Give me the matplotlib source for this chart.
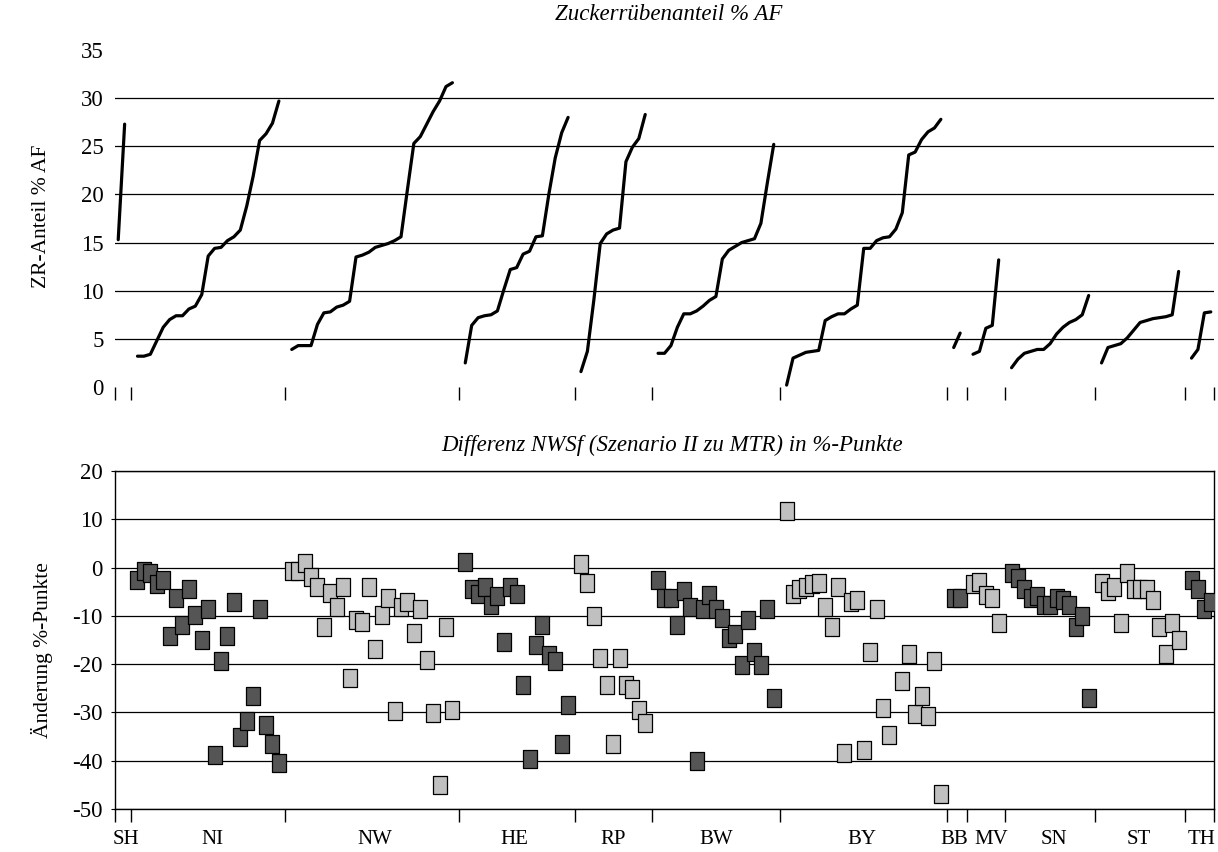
import numpy as np
import matplotlib
matplotlib.use("Agg")
import matplotlib.pyplot as plt
from matplotlib.path import Path

plt.rcParams['font.family'] = ['Liberation Serif', 'DejaVu Serif']
plt.rcParams['axes.unicode_minus'] = False

# Bundesländer in chart order
laender = ["SH", "NI", "NW", "HE", "RP", "BW", "BY", "BB", "MV", "SN", "ST", "TH"]
farben = ["#555555", "#555555", "#c0c0c0", "#555555", "#c0c0c0", "#555555",
          "#c0c0c0", "#555555", "#c0c0c0", "#555555", "#c0c0c0", "#555555"]
# small nudges of the Land labels (in category slots), like the Excel export
label_versatz = [0.7, 0.7, 0.4, -0.3, 0, 0, -0.3, -0.4, 0.9, 0.6, -0.2, 0]

# Zuckerrübenanteil % AF (sorted per Land)
zr_sh = [15.3, 27.3]
zr_ni = [3.2, 3.2, 3.4, 4.8, 6.2, 7.0, 7.4, 7.4, 8.1, 8.4, 9.6, 13.6, 14.4, 14.5, 15.2,
         15.6, 16.3, 18.8, 21.9, 25.6, 26.3, 27.4, 29.7]
zr_nw = [3.9, 4.3, 4.3, 4.3, 6.5, 7.7, 7.8, 8.3, 8.5, 8.9, 13.5, 13.7, 14.0, 14.5, 14.7,
         14.9, 15.2, 15.6, 20.5, 25.3, 26.0, 27.3, 28.6, 29.7, 31.2, 31.6]
zr_he = [2.5, 6.4, 7.2, 7.4, 7.5, 7.9, 10.1, 12.2, 12.4, 13.8, 14.1, 15.6, 15.7, 20.0,
         23.8, 26.4, 28.0]
zr_rp = [1.6, 3.7, 9.0, 14.9, 15.9, 16.3, 16.5, 23.4, 24.9, 25.8, 28.3]
zr_bw = [3.5, 3.5, 4.3, 6.2, 7.6, 7.6, 7.9, 8.4, 9.0, 9.4, 13.3, 14.2, 14.6, 15.0, 15.2,
         15.4, 17.0, 21.2, 25.2]
zr_by = [0.2, 3.0, 3.3, 3.6, 3.7, 3.8, 6.9, 7.3, 7.6, 7.6, 8.1, 8.5, 14.4, 14.4, 15.2,
         15.5, 15.6, 16.4, 18.1, 24.1, 24.4, 25.7, 26.5, 26.9, 27.8]
zr_bb = [4.1, 5.6]
zr_mv = [3.4, 3.7, 6.1, 6.4, 13.2]
zr_sn = [2.0, 2.9, 3.5, 3.7, 3.9, 3.9, 4.5, 5.5, 6.2, 6.7, 7.0, 7.5, 9.5]
zr_st = [2.5, 4.1, 4.3, 4.5, 5.1, 5.9, 6.7, 6.9, 7.1, 7.2, 7.3, 7.5, 12.0]
zr_th = [3.0, 3.9, 7.7, 7.8]

# Differenz NWSf (Szenario II zu MTR) in %-Punkte
nan = np.nan
diff_sh = [nan, nan]
diff_ni = [-2.6, -0.8, -1.2, -3.3, -2.6, -14.1, -6.3, -11.8, -4.5, -9.9, -15.1, -8.6,
           -38.8, -19.3, -14.1, -7.2, -35.1, -31.8, -26.7, -8.6, -32.7, -36.5, -40.5]
diff_nw = [-0.7, -0.7, 0.9, -1.9, -4.0, -12.3, -5.2, -8.1, -4.0, -22.8, -10.9, -11.3,
           -4.0, -16.8, -9.9, -6.3, -29.7, -8.1, -7.1, -13.5, -8.5, -19.1, -30.2, -45.0,
           -12.3, -29.4]
diff_he = [1.1, -4.5, -5.4, -4.0, -7.7, -5.8, -15.5, -4.0, -5.4, -24.4, -39.7, -16.0,
           -11.8, -18.2, -19.3, -36.5, -28.5]
diff_rp = [0.7, -3.1, -10.0, -18.8, -24.4, -36.5, -18.8, -24.4, -25.2, -29.4, -32.1]
diff_bw = [-2.6, -6.3, -6.3, -11.8, -4.9, -8.1, -40.0, -8.5, -5.7, -8.5, -10.4, -14.6,
           -13.7, -20.2, -10.9, -17.4, -20.2, -8.6, -27.1]
diff_by = [11.7, -5.4, -4.5, -4.0, -3.5, -3.1, -8.1, -12.3, -4.0, -38.3, -7.2, -6.8,
           -37.7, -17.4, -8.5, -29.0, -34.6, nan, -23.5, -17.9, -30.4, -26.6, -30.8,
           -19.3, -46.9]
diff_bb = [-6.3, -6.3]
diff_mv = [-3.3, -2.9, -5.7, -6.3, -11.4]
diff_sn = [-1.2, -2.1, -4.5, -6.3, -5.8, -7.7, -7.7, -6.3, -6.8, -7.7, -12.3, -10.0, -27.1]
diff_st = [-3.1, -4.9, -4.0, -11.4, -1.2, -4.5, -4.5, -4.5, -6.8, -12.3, -17.9, -11.4, -15.1]
diff_th = [-2.6, -4.5, -8.6, -7.2]

zr_all = [zr_sh, zr_ni, zr_nw, zr_he, zr_rp, zr_bw, zr_by, zr_bb, zr_mv, zr_sn, zr_st, zr_th]
diff_all = [diff_sh, diff_ni, diff_nw, diff_he, diff_rp, diff_bw, diff_by, diff_bb,
            diff_mv, diff_sn, diff_st, diff_th]

# slightly tall square marker (as in the original export)
rect = Path([(-0.41, -0.5), (0.41, -0.5), (0.41, 0.5), (-0.41, 0.5), (-0.41, -0.5)],
            [Path.MOVETO, Path.LINETO, Path.LINETO, Path.LINETO, Path.CLOSEPOLY])

W, H = 1218, 852
fig = plt.figure(figsize=(W / 100, H / 100), dpi=100)
ax1 = fig.add_axes([115 / W, 1 - 387 / H, 1099 / W, 337 / H])
ax2 = fig.add_axes([115 / W, 1 - 809 / H, 1099 / W, 338 / H])

pos = 0
trenner = [-0.5]
mitten = []
for name, zr, diff, col, dx in zip(laender, zr_all, diff_all, farben, label_versatz):
    xs = np.arange(pos, pos + len(zr))
    ax1.plot(xs, zr, color="black", lw=2.3, solid_capstyle="round",
             solid_joinstyle="round", zorder=3)
    ax2.plot(xs, diff, ls="none", marker=rect, ms=12.8, mfc=col, mec="black",
             mew=0.9, zorder=3)
    mitten.append(xs.mean() + dx)
    pos += len(zr) + 1
    trenner.append(pos - 1)
trenner[-1] = pos - 1.5
xmax = pos - 1.5

# top panel
ax1.set_xlim(-0.5, xmax)
ax1.set_ylim(0, 35)
ax1.set_yticks(np.arange(0, 36, 5))
ax1.yaxis.grid(True, color="black", lw=0.9)
gl = ax1.get_ygridlines()
gl[0].set_visible(False)
gl[-1].set_visible(False)
for s in ax1.spines.values():
    s.set_visible(False)
ax1.set_xticks(trenner)
ax1.set_xticklabels([])
ax1.tick_params(axis="x", direction="out", length=9, width=1, color="black")
ax1.tick_params(axis="y", length=0, pad=8, labelsize=16.5)
ax1.set_axisbelow(True)

# bottom panel
ax2.set_xlim(-0.5, xmax)
ax2.set_ylim(-50, 20)
ax2.set_yticks(np.arange(-50, 21, 10))
ax2.yaxis.grid(True, color="black", lw=0.9)
for s in ax2.spines.values():
    s.set_color("black")
    s.set_linewidth(1.0)
ax2.set_xticks(trenner)
ax2.set_xticklabels([])
ax2.set_xticks(mitten, minor=True)
ax2.set_xticklabels(laender, minor=True)
ax2.tick_params(axis="x", which="major", direction="out", length=9, width=1)
ax2.tick_params(axis="x", which="minor", length=0, pad=15, labelsize=15)
ax2.tick_params(axis="y", direction="out", length=3, pad=6, labelsize=16.5)
ax2.set_axisbelow(True)

fig.text(669 / W, 1 - 14 / H, "Zuckerrübenanteil % AF", style="italic",
         ha="center", va="center", fontsize=16.5)
fig.text(672 / W, 1 - 445 / H, "Differenz NWSf (Szenario II zu MTR) in %-Punkte",
         style="italic", ha="center", va="center", fontsize=16.5)
fig.text(42 / W, 1 - 216 / H, "ZR-Anteil % AF", rotation=90, ha="center",
         va="center", fontsize=15.5)
fig.text(42 / W, 1 - 650 / H, "Änderung %-Punkte", rotation=90, ha="center",
         va="center", fontsize=15.5)

fig.savefig("out.png", dpi=100)
